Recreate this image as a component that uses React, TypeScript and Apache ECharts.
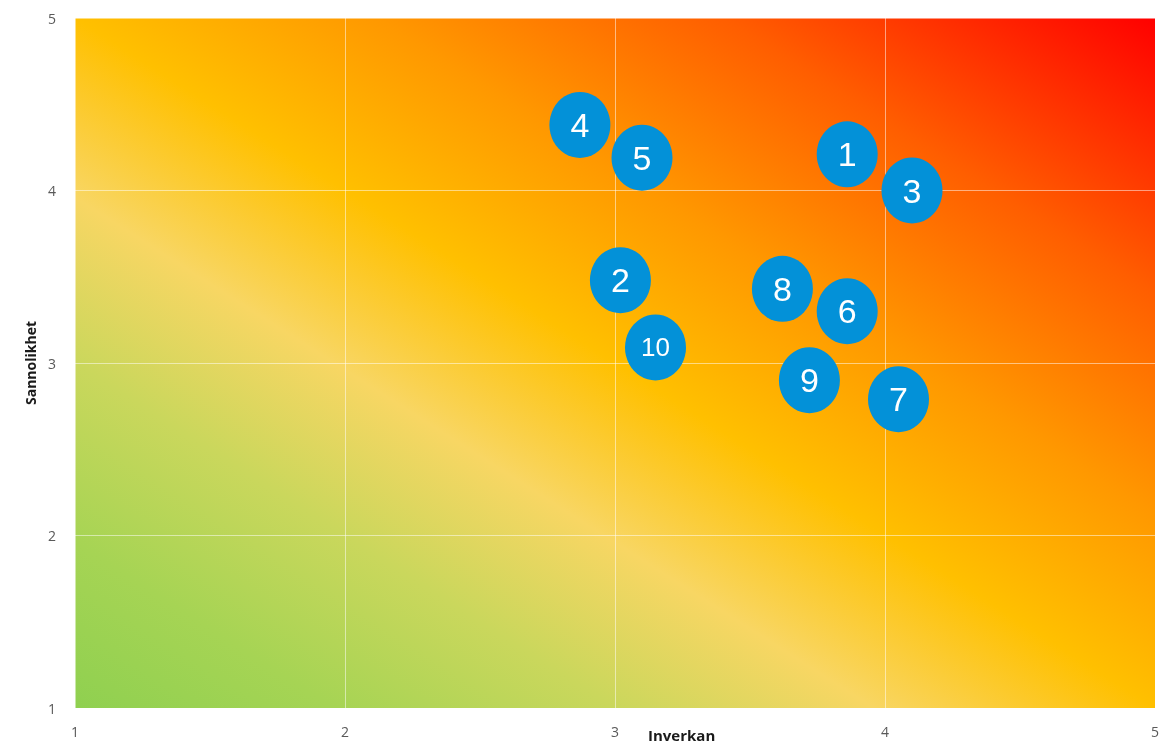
import React, { useEffect, useRef } from "react";
import * as echarts from "echarts";

const riskIds = ["1", "2", "3", "4", "5", "6", "7", "8", "9", "10"];
const impactValues = [3.86, 3.02, 4.1, 2.87, 3.1, 3.86, 4.05, 3.62, 3.72, 3.15];
const likelihoodValues = [4.21, 3.48, 4.0, 4.38, 4.19, 3.3, 2.79, 3.43, 2.9, 3.09];
const xTicks = [1, 2, 3, 4, 5];
const yTicks = [1, 2, 3, 4, 5];
const xTitle = "Inverkan";
const yTitle = "Sannolikhet";

export default function App() {
  const ref = useRef<HTMLDivElement>(null);
  useEffect(() => {
    if (!ref.current) return;
    const chart = echarts.init(ref.current, null, { renderer: "svg" });
    const bg = new echarts.graphic.LinearGradient(0, 1, 1, 0, [
      { offset: 0, color: "#8fd050" },
      { offset: 0.12, color: "#a6d454" },
      { offset: 0.25, color: "#cad75c" },
      { offset: 0.37, color: "#f8d663" },
      { offset: 0.5, color: "#ffc000" },
      { offset: 0.64, color: "#ff9800" },
      { offset: 0.8, color: "#ff5e00" },
      { offset: 1, color: "#ff0000" },
    ]);
    const data = riskIds.map((id, i) => ({
      name: id,
      value: [impactValues[i], likelihoodValues[i]],
      label: id.length > 1 ? { fontSize: 26 } : undefined,
    }));
    chart.setOption({
      animation: false,
      grid: {
        show: true,
        left: 75,
        right: 19,
        top: 18,
        bottom: 37,
        backgroundColor: bg,
        borderWidth: 0,
      },
      xAxis: {
        type: "value",
        min: xTicks[0],
        max: xTicks[xTicks.length - 1],
        interval: 1,
        axisLine: { show: false },
        axisTick: { show: false },
        axisLabel: {
          color: "#595959",
          fontSize: 14,
          fontFamily: "Open Sans",
          margin: 16,
        },
        splitLine: { show: true, lineStyle: { color: "rgba(255,255,255,0.5)", width: 1 } },
      },
      yAxis: {
        type: "value",
        min: yTicks[0],
        max: yTicks[yTicks.length - 1],
        interval: 1,
        name: yTitle,
        nameLocation: "middle",
        nameGap: 38,
        nameTextStyle: {
          color: "#1a1a1a",
          fontSize: 14,
          fontWeight: "bold",
          fontFamily: "Open Sans",
        },
        axisLine: { show: false },
        axisTick: { show: false },
        axisLabel: {
          color: "#595959",
          fontSize: 14,
          fontFamily: "Open Sans",
          margin: 19,
        },
        splitLine: { show: true, lineStyle: { color: "rgba(255,255,255,0.5)", width: 1 } },
      },
      graphic: [
        {
          type: "text",
          left: 648,
          top: 727,
          style: {
            text: xTitle,
            fill: "#1a1a1a",
            font: "bold 15px 'Open Sans'",
          },
        },
      ],
      series: [
        {
          type: "scatter",
          data,
          symbol: "circle",
          symbolSize: [61, 66],
          itemStyle: { color: "#0391d8", opacity: 1 },
          emphasis: { disabled: true },
          label: {
            show: true,
            position: "inside",
            formatter: (p: any) => p.name,
            color: "#ffffff",
            fontFamily: "Liberation Sans",
            fontSize: 34,
          },
        },
      ],
    });
    return () => chart.dispose();
  }, []);
  return (
    <div
      ref={ref}
      style={{ position: "fixed", left: 0, top: 0, width: 1174, height: 745 }}
    />
  );
}
